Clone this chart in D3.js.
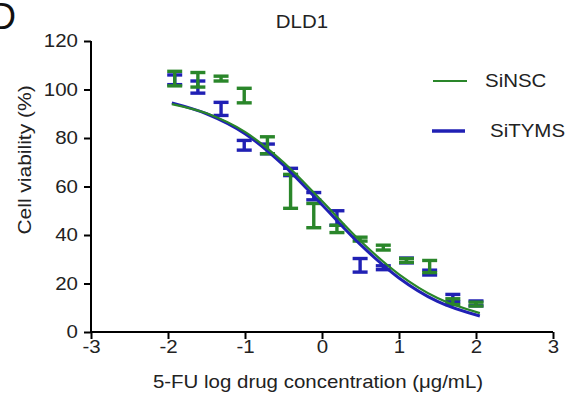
<!DOCTYPE html>
<html>
<head>
  <meta charset="utf-8">
  <title>DLD1</title>
  <style>
    body { margin: 0; background: #fff; }
    .axis path,
    .axis line {
      fill: none;
      stroke: #000;
      stroke-width: 2px;
    }
    .axis text {
      font-family: "Liberation Sans", Arial, sans-serif;
      font-size: 17.5px;
      fill: #222;
    }
    .label {
      font-family: "Liberation Sans", Arial, sans-serif;
      font-size: 17.5px;
      fill: #222;
    }
  </style>
</head>
<body>
<script src="https://d3js.org/d3.v7.min.js"></script>
<script>
  var width = 568,
      height = 397;

  // log10 of 5-FU concentration (two-fold dilutions from 100 ug/mL)
  var logConc = [-1.913, -1.612, -1.311, -1.010, -0.709, -0.408, -0.107,
                 0.194, 0.495, 0.796, 1.097, 1.398, 1.699, 2.000];

  var nscMean = [104.5, 104, 104.5, 97.5, 77, 58, 48, 42.5, 38.3, 34.8, 29.5, 27, 12.5, 11.5];
  var nscErr  = [3, 3, 1, 3, 3.5, 7, 5, 1.5, 0.8, 1, 0.8, 2.5, 1.2, 0.8];

  var tymsMean = [104, 101, 92, 77, 75.5, 66, 56, 47, 27.5, 26.5, 29.5, 24.5, 14, 11.8];
  var tymsErr  = [2, 2.5, 2.7, 2, 2, 1.5, 1.5, 3, 2.8, 0.8, 1, 1, 1.5, 1];

  // fitted dose-response curves
  var curveX    = [-1.95, -1.5, -1.0, -0.5, 0, 0.5, 1.0, 1.5, 2.05];
  var nscCurve  = [94, 90.2, 82.5, 70, 54, 37.5, 23.8, 14, 7.8];
  var tymsCurve = [94.5, 90, 81.8, 68.8, 52.5, 36, 22.3, 12.6, 6.6];

  var xTicks = [-3, -2, -1, 0, 1, 2, 3];
  var yTicks = [0, 20, 40, 60, 80, 100, 120];

  var green = '#2a862a',
      blue = '#2020b4';

  var sx = 1.17; // the original figure's lettering is stretched sideways

  var svg = d3.select('body')
    .append('svg')
    .attr('width', width)
    .attr('height', height);

  var xScale = d3.scaleLinear()
    .domain([-3, 3])
    .range([91, 553]);

  var yScale = d3.scaleLinear()
    .domain([0, 120])
    .range([332, 41]);

  var xAxis = d3.axisBottom(xScale).tickValues(xTicks).tickSize(7)
    .tickFormat(function(d) { return String(d); });
  var yAxis = d3.axisLeft(yScale).tickValues(yTicks).tickSize(7);

  var xAxisG = svg.append('g')
    .attr('class', 'axis')
    .attr('transform', 'translate(0,' + yScale(0) + ')')
    .call(xAxis);
  xAxisG.select('.domain').attr('d', 'M' + xScale(-3) + ',0H' + xScale(3));
  xAxisG.selectAll('.tick text')
    .attr('y', 0).attr('dy', null)
    .attr('transform', 'translate(0,21) scale(' + sx + ',1)');

  var yAxisG = svg.append('g')
    .attr('class', 'axis')
    .attr('transform', 'translate(' + xScale(-3) + ',0)')
    .call(yAxis);
  yAxisG.select('.domain').attr('d', 'M0,' + yScale(0) + 'V' + yScale(120));
  yAxisG.selectAll('.tick text')
    .attr('x', 0)
    .attr('transform', 'translate(-13,0) scale(' + sx + ',1)');

  function label(x, y, txt, anchor, rot) {
    return svg.append('text')
      .attr('class', 'label')
      .attr('text-anchor', anchor || 'start')
      .attr('transform', 'translate(' + x + ',' + y + ')' + (rot ? ' rotate(-90) scale(1.2,1)' : ' scale(' + sx + ',1)'))
      .text(txt);
  }

  label(302, 28, 'DLD1', 'middle');
  label(318, 388, '5-FU log drug concentration (\u03bcg/mL)', 'middle');
  label(31, 160, 'Cell viability (%)', 'middle', true);

  // panel letter, cut at the left edge
  svg.append('text')
    .attr('x', -10).attr('y', 29)
    .style('font-family', '"Liberation Sans", Arial, sans-serif')
    .style('font-size', '36px')
    .attr('fill', '#111')
    .text('D');

  var line = d3.line()
    .x(function(d) { return xScale(d[0]); })
    .y(function(d) { return yScale(d[1]); })
    .curve(d3.curveMonotoneX);

  function drawErr(mean, err, color) {
    var g = svg.append('g')
      .attr('stroke', color)
      .attr('stroke-width', 3.4)
      .attr('fill', 'none');
    var capW = 7.5;
    mean.forEach(function(m, i) {
      var x = xScale(logConc[i]),
          y1 = yScale(m + err[i]),
          y2 = yScale(m - err[i]);
      g.append('line').attr('x1', x).attr('x2', x).attr('y1', y1).attr('y2', y2);
      g.append('line').attr('x1', x - capW).attr('x2', x + capW).attr('y1', y1).attr('y2', y1);
      g.append('line').attr('x1', x - capW).attr('x2', x + capW).attr('y1', y2).attr('y2', y2);
    });
  }

  drawErr(tymsMean, tymsErr, blue);
  drawErr(nscMean, nscErr, green);

  svg.append('path')
    .datum(curveX.map(function(x, i) { return [x, tymsCurve[i]]; }))
    .attr('d', line)
    .attr('fill', 'none')
    .attr('stroke', blue)
    .attr('stroke-width', 3);

  svg.append('path')
    .datum(curveX.map(function(x, i) { return [x, nscCurve[i]]; }))
    .attr('d', line)
    .attr('fill', 'none')
    .attr('stroke', green)
    .attr('stroke-width', 2.2);

  // legend
  var legend = [
    {name: 'SiNSC', color: green, w: 2, y: 81, x1: 433, x2: 467, tx: 485},
    {name: 'SiTYMS', color: blue, w: 3.5, y: 131, x1: 432, x2: 465, tx: 490}
  ];
  legend.forEach(function(l) {
    svg.append('line')
      .attr('x1', l.x1).attr('x2', l.x2)
      .attr('y1', l.y).attr('y2', l.y)
      .attr('stroke', l.color)
      .attr('stroke-width', l.w);
    label(l.tx, l.y + 6, l.name);
  });
</script>
</body>
</html>
